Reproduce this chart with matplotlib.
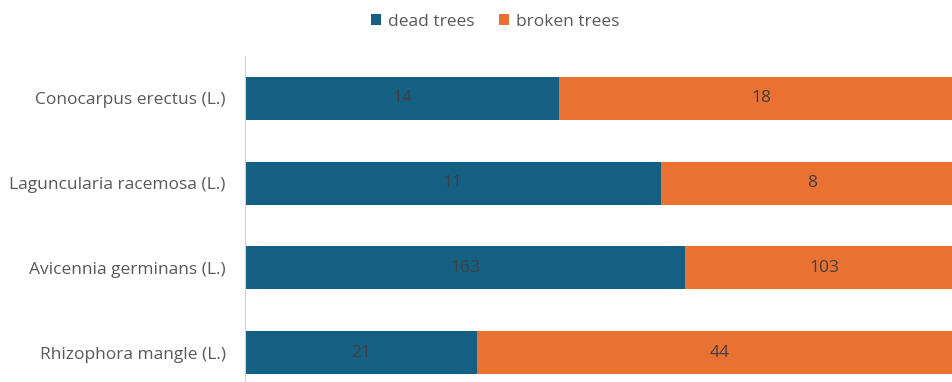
import matplotlib
matplotlib.use("Agg")
import matplotlib.pyplot as plt
import numpy as np

species = ["Conocarpus erectus (L.)", "Laguncularia racemosa (L.)",
           "Avicennia germinans (L.)", "Rhizophora mangle (L.)"]
dead = [14, 11, 163, 21]
broken = [18, 8, 103, 44]

plt.rcParams['font.family'] = ['Open Sans', 'DejaVu Sans']

dead_c = "#156082"
broken_c = "#E97132"
fs = 12.5

fig = plt.figure(figsize=(9.52, 3.82), dpi=100)
ax = fig.add_axes([245/952, -13/382, 718/952, 339/382])

y = np.arange(len(species))[::-1]
tot = np.array(dead) + np.array(broken)
d = np.array(dead) / tot
b = np.array(broken) / tot

bars1 = ax.barh(y, d, height=0.506, color=dead_c, label="dead trees")
bars2 = ax.barh(y, b, left=d, height=0.506, color=broken_c, label="broken trees")
ax.bar_label(bars1, labels=[str(v) for v in dead], label_type="center",
             color="#404040", fontsize=fs)
ax.bar_label(bars2, labels=[str(v) for v in broken], label_type="center",
             color="#404040", fontsize=fs)

ax.set_xlim(0, 1)
ax.set_ylim(-0.5, len(species) - 0.5)
ax.set_yticks(y)
ax.set_yticklabels(species, fontsize=fs, color="#595959")
ax.tick_params(axis="y", length=0, pad=14)
ax.set_xticks([])
for s in ["top", "right", "bottom"]:
    ax.spines[s].set_visible(False)
ax.spines["left"].set_color("#d0d0d0")

fig.legend(loc="upper center", bbox_to_anchor=(0.52, 1.005), ncol=2, frameon=False,
           fontsize=fs, labelcolor="#595959", handlelength=0.6, handleheight=0.6,
           handletextpad=0.4, columnspacing=1.4)

fig.savefig("out.png", dpi=100)
